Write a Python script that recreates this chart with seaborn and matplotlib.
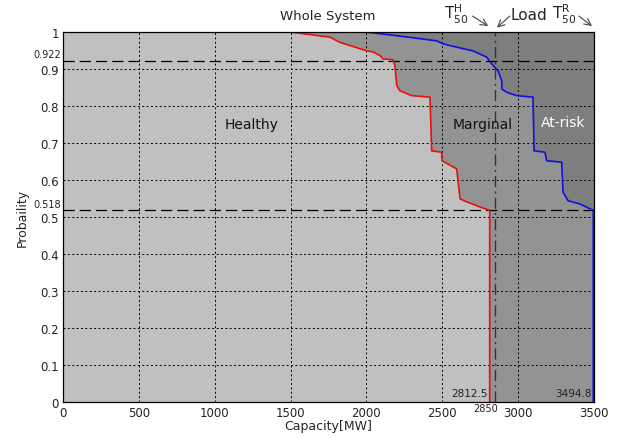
import matplotlib
matplotlib.use("Agg")
import matplotlib.pyplot as plt
import seaborn as sns
import pandas as pd

# ---- data ----
red_x = [0, 1496, 1760, 1826, 2002, 2043, 2090, 2109, 2175, 2188, 2200, 2221, 2298, 2419,
         2430, 2496, 2498, 2595, 2617, 2661, 2749, 2812.5, 2812.5]
red_y = [1.0, 1.0, 0.986, 0.972, 0.949, 0.946, 0.936, 0.927, 0.925, 0.909, 0.855, 0.841, 0.828, 0.824,
         0.679, 0.675, 0.652, 0.630, 0.549, 0.541, 0.527, 0.518, 0.0]
blue_x = [0, 1991, 2200, 2373, 2463, 2505, 2595, 2702, 2793, 2826, 2867, 2892, 2892, 2925, 2991,
          3098, 3105, 3177, 3188, 3287, 3296, 3329, 3408, 3494.8, 3494.8]
blue_y = [1.0, 1.0, 0.990, 0.981, 0.976, 0.968, 0.959, 0.949, 0.932, 0.914, 0.895, 0.868, 0.846, 0.837, 0.828,
          0.824, 0.679, 0.675, 0.652, 0.648, 0.567, 0.544, 0.535, 0.518, 0.0]
x_ticks = [0, 500, 1000, 1500, 2000, 2500, 3000, 3500]
y_ticks = [0, 0.1, 0.2, 0.3, 0.4, 0.5, 0.6, 0.7, 0.8, 0.9, 1]
y_tick_labels = ["0", "0.1", "0.2", "0.3", "0.4", "0.5", "0.6", "0.7", "0.8", "0.9", "1"]
load_value = 2850
h_levels = [0.922, 0.518]
h_level_labels = ["0.922", "0.518"]
t50_h = 2812.5
t50_r = 3494.8
region_labels = ["Healthy", "Marginal", "At-risk"]

red_df = pd.DataFrame({"x": red_x, "y": red_y})
blue_df = pd.DataFrame({"x": blue_x, "y": blue_y})

sns.set_theme(style="white")
plt.rcParams["font.family"] = ["DejaVu Sans"]

fig = plt.figure(figsize=(6.18, 4.39), dpi=100)
ax = fig.add_axes([63 / 618, 36 / 439, 531 / 618, 370 / 439])

# region shading
ax.set_facecolor("#7e7e7e")  # at-risk
ax.fill(blue_x + [0], blue_y + [0], color="#939393", zorder=1, lw=0)  # marginal
ax.fill(red_x + [0], red_y + [0], color="#c0c0c0", zorder=1.1, lw=0)  # healthy

# grid
for xv in x_ticks[1:-1]:
    ax.axvline(xv, color="black", lw=0.7, ls=(0, (2, 2.5)), zorder=2)
for yv in y_ticks[1:-1]:
    ax.axhline(yv, color="black", lw=0.7, ls=(0, (2, 2.5)), zorder=2)

# reference lines
for hv in h_levels:
    ax.axhline(hv, color="black", lw=0.9, ls=(0, (9, 4)), zorder=3)
ax.axvline(load_value, color="#333333", lw=1.0, ls=(0, (8, 3, 1.5, 3)), zorder=3)

# curves
sns.lineplot(data=blue_df, x="x", y="y", sort=False, estimator=None, color="#1010e0", lw=1.2, ax=ax, zorder=4)
sns.lineplot(data=red_df, x="x", y="y", sort=False, estimator=None, color="#e81010", lw=1.2, ax=ax, zorder=5)

ax.set_xlim(0, 3500)
ax.set_ylim(0, 1)
ax.set_xticks(x_ticks)
ax.set_xticklabels([str(v) for v in x_ticks], fontsize=8.5, color="#222222")
ax.set_yticks(y_ticks)
ax.set_yticklabels(y_tick_labels, fontsize=8.5, color="#222222")
ax.tick_params(axis="both", direction="in", length=3, width=0.7, pad=3)
ax.set_xlabel("Capacity[MW]", fontsize=9, labelpad=0)
ax.set_ylabel("Probaility", fontsize=9, labelpad=8)
for s in ax.spines.values():
    s.set_color("black")
    s.set_linewidth(0.9)
    s.set_zorder(6)

# extra labels
ax.text(2785, -0.004, str(load_value), fontsize=7, ha="center", va="top", color="#222222", clip_on=False)
for hv, lab in zip(h_levels, h_level_labels):
    ax.text(-15, hv + 0.004, lab, fontsize=7, ha="right", va="bottom", color="#222222",
            transform=ax.transData, clip_on=False)
ax.text(t50_h - 12, 0.012, "2812.5", fontsize=7.5, ha="right", va="bottom", color="#222222", zorder=7)
ax.text(t50_r - 12, 0.012, "3494.8", fontsize=7.5, ha="right", va="bottom", color="#222222", zorder=7)

ax.text(1246, 0.751, region_labels[0], fontsize=10, ha="center", va="center", color="#111111", zorder=7)
ax.text(2768, 0.751, region_labels[1], fontsize=10, ha="center", va="center", color="#111111", zorder=7)
ax.text(3296, 0.757, region_labels[2], fontsize=10, ha="center", va="center", color="white", zorder=7)

# title and top annotations
ax.text(1747, 1.045, "Whole System", fontsize=9.5, ha="center", va="center", color="#222222", clip_on=False)
arrow = dict(arrowstyle="->", color="#444444", lw=0.8, shrinkA=0, shrinkB=0)
ax.text(2590, 1.05, r"$\mathregular{T^{H}_{50}}$", fontsize=11, ha="center", va="center", clip_on=False)
ax.annotate("", xy=(t50_h - 10, 1.016), xytext=(2700, 1.043), arrowprops=arrow, annotation_clip=False)
ax.text(3068, 1.047, "Load", fontsize=11, ha="center", va="center", clip_on=False)
ax.annotate("", xy=(load_value + 10, 1.012), xytext=(2945, 1.043), arrowprops=arrow, annotation_clip=False)
ax.text(3305, 1.05, r"$\mathregular{T^{R}_{50}}$", fontsize=11, ha="center", va="center", clip_on=False)
ax.annotate("", xy=(t50_r - 8, 1.016), xytext=(3400, 1.043), arrowprops=arrow, annotation_clip=False)

fig.savefig("out.png", dpi=100, facecolor="white")
